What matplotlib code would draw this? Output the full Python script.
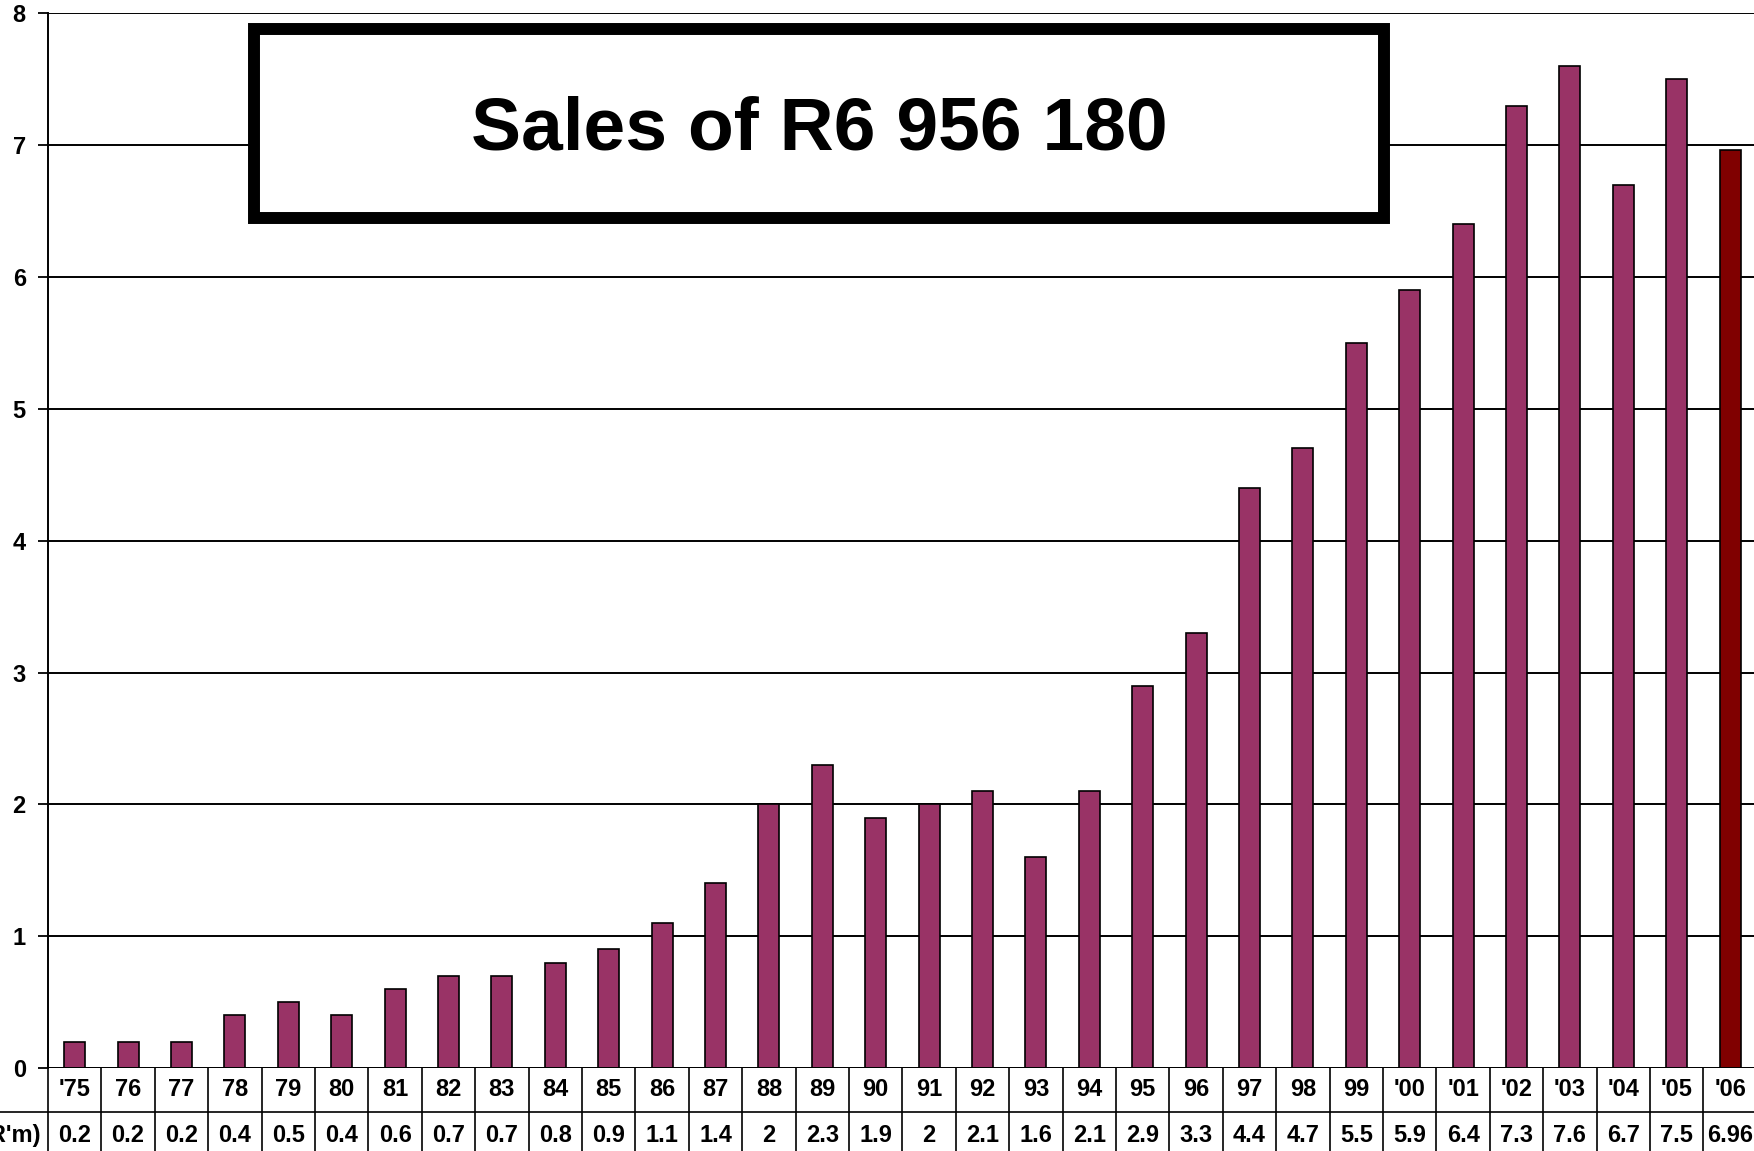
import numpy as np
import matplotlib.pyplot as plt
from matplotlib.patches import Rectangle

plt.rcParams['font.family'] = ['Liberation Sans', 'DejaVu Sans']
plt.rcParams['font.weight'] = 'bold'

# данные
years = ["'75", "76", "77", "78", "79", "80", "81", "82", "83", "84", "85", "86",
         "87", "88", "89", "90", "91", "92", "93", "94", "95", "96", "97", "98",
         "99", "'00", "'01", "'02", "'03", "'04", "'05", "'06"]
sales = [0.2, 0.2, 0.2, 0.4, 0.5, 0.4, 0.6, 0.7, 0.7, 0.8, 0.9, 1.1,
         1.4, 2, 2.3, 1.9, 2, 2.1, 1.6, 2.1, 2.9, 3.3, 4.4, 4.7,
         5.5, 5.9, 6.4, 7.3, 7.6, 6.7, 7.5, 6.96]
sales_labels = ['0.2', '0.2', '0.2', '0.4', '0.5', '0.4', '0.6', '0.7', '0.7', '0.8',
                '0.9', '1.1', '1.4', '2', '2.3', '1.9', '2', '2.1', '1.6', '2.1',
                '2.9', '3.3', '4.4', '4.7', '5.5', '5.9', '6.4', '7.3', '7.6', '6.7',
                '7.5', '6.96']
title = 'Sales of R6 956 180'
row_label = "(R'm)"

W, H = 1754, 1151
fig = plt.figure(figsize=(W / 100, H / 100), dpi=100)
n = len(years)
cell = 53.4
ax = fig.add_axes([48 / W, 83 / H, n * cell / W, (1068 - 13.4) / H])

x = np.arange(n) + 0.5
colors = ['#993366'] * (n - 1) + ['#800000']
ax.bar(x, sales, width=0.39, color=colors, edgecolor='black', linewidth=1.2, zorder=3)

ax.set_xlim(0, n)
ax.set_ylim(0, 8)
ax.set_yticks(range(9))
ax.set_yticklabels([str(i) for i in range(9)], fontsize=17, fontweight='bold')
ax.tick_params(axis='y', length=7, width=1.3, pad=9, color='black')
ax.set_xticks([])
ax.grid(axis='y', color='black', linewidth=1.4, zorder=1)
ax.set_axisbelow(True)
for s in ['top', 'right', 'bottom']:
    ax.spines[s].set_visible(False)
ax.spines['left'].set_linewidth(1.4)
ax.axhline(0, color='black', linewidth=1.4, zorder=4)

# таблица под графиком
unit = 1 / 131.8  # ед. данных на пиксель по y
r1 = -44 * unit
bottom = -120 * unit
for i in range(n + 1):
    ax.plot([i, i], [0, bottom], color='black', lw=1.2, clip_on=False)
ax.plot([-2, n], [r1, r1], color='black', lw=1.2, clip_on=False)
for i in range(n):
    ax.text(i + 0.5, -21 * unit, years[i], ha='center', va='center',
            fontsize=17, fontweight='bold', clip_on=False)
    ax.text(i + 0.5, -67 * unit, sales_labels[i], ha='center', va='center',
            fontsize=17, fontweight='bold', clip_on=False)
ax.text(-0.12, -67 * unit, row_label, ha='right', va='center',
        fontsize=17, fontweight='bold', clip_on=False)

# заголовок в рамке
fig.patches.append(Rectangle((254 / W, 1 - 218 / H), (1384 - 254) / W, (218 - 29) / H,
                             transform=fig.transFigure, facecolor='white',
                             edgecolor='black', linewidth=8.6, zorder=5))
fig.text(819 / W, 1 - 130 / H, title, ha='center', va='center',
         fontsize=54, fontweight='bold', zorder=6)

fig.savefig('out.png', dpi=100)
